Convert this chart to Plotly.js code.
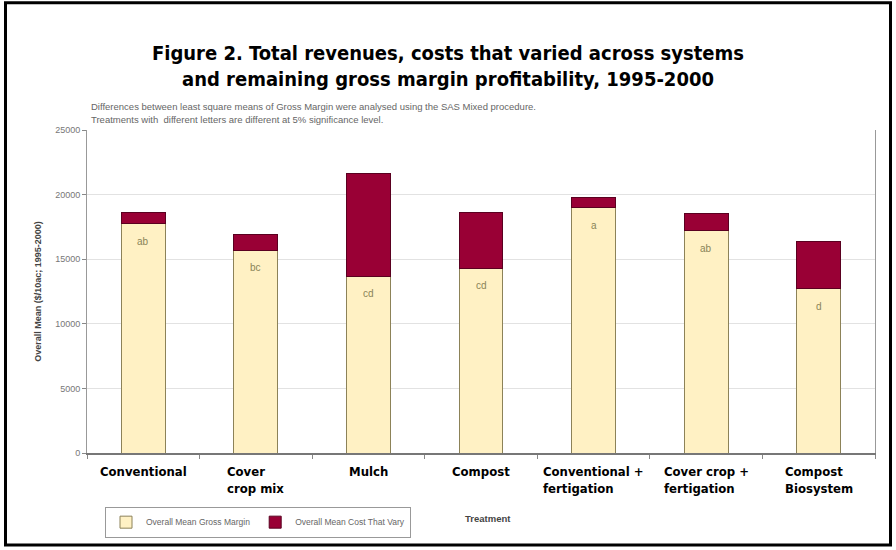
<!DOCTYPE html>
<html>
<head>
<meta charset="utf-8">
<script src="https://cdn.plot.ly/plotly-3.0.1.min.js"></script>
<style>
  html, body { margin: 0; padding: 0; background: #fff; }
  #chart { width: 896px; height: 550px; }
</style>
</head>
<body>
<div id="chart"></div>
<script>
// ---- data ----
const categories = ["Conventional", "Cover crop mix", "Mulch", "Compost",
  "Conventional + fertigation", "Cover crop + fertigation", "Compost Biosystem"];
const categoryLabels = ["Conventional", "Cover<br>crop mix", "Mulch", "Compost",
  "Conventional +<br>fertigation", "Cover crop +<br>fertigation", "Compost<br>Biosystem"];
const grossMargin = [17750, 15700, 13700, 14300, 19000, 17200, 12700];
const costThatVary = [900, 1200, 7950, 4300, 800, 1300, 3700];
const significanceLetters = ["ab", "bc", "cd", "cd", "a", "ab", "d"];
const yTicks = [0, 5000, 10000, 15000, 20000, 25000];

// ---- layout helpers ----
const narrow = '"DejaVu Sans Condensed", "Liberation Sans Narrow", "Arial Narrow", sans-serif';
const sans = '"Liberation Sans", Arial, sans-serif';
const M = {l: 87, r: 21, t: 130, b: 95};
const W = 896, H = 550;
const pw = W - M.l - M.r, ph = H - M.t - M.b;
const px2x = p => (p - M.l) / pw;
const py2y = p => (H - M.b - p) / ph;

const traces = [
  {
    type: 'bar', name: 'Overall Mean Gross Margin',
    x: categories, y: grossMargin,
    marker: {color: '#FFF1C4', line: {color: '#8C8258', width: 1}},
    hoverinfo: 'y'
  },
  {
    type: 'bar', name: 'Overall Mean Cost That Vary',
    x: categories, y: costThatVary,
    marker: {color: '#990035', line: {color: '#5A0020', width: 1}},
    hoverinfo: 'y'
  }
];

const annotations = [];
categories.forEach((c, i) => {
  annotations.push({
    x: c, xref: 'x', y: py2y(464), yref: 'paper', yanchor: 'top',
    xanchor: 'center', align: 'left', showarrow: false,
    text: categoryLabels[i],
    font: {family: narrow, size: 13, color: '#000', weight: 'bold'}
  });
  annotations.push({
    x: c, xref: 'x', y: grossMargin[i], yref: 'y', yanchor: 'top',
    xanchor: 'center', showarrow: false, yshift: -10,
    text: significanceLetters[i],
    font: {family: sans, size: 10, color: '#8A8458'}
  });
});

annotations.push(
  {xref: 'paper', yref: 'paper', x: px2x(89), y: py2y(106), xanchor: 'left', yanchor: 'middle',
   showarrow: false, text: 'Differences between least square means of Gross Margin were analysed using the SAS Mixed procedure.',
   font: {family: sans, size: 9.5, color: '#666'}},
  {xref: 'paper', yref: 'paper', x: px2x(89), y: py2y(119), xanchor: 'left', yanchor: 'middle',
   showarrow: false, text: 'Treatments with  different letters are different at 5% significance level.',
   font: {family: sans, size: 9.5, color: '#666'}},
  {xref: 'paper', yref: 'paper', x: px2x(463), y: py2y(521), xanchor: 'left', yanchor: 'middle',
   showarrow: false, text: '<b>Treatment</b>',
   font: {family: sans, size: 9.5, color: '#444'}}
);

const layout = {
  width: W, height: H,
  margin: M,
  paper_bgcolor: '#fff', plot_bgcolor: '#fff',
  barmode: 'stack', bargap: 0.61,
  showlegend: true,
  title: {
    text: 'Figure 2. Total revenues, costs that varied across systems<br>and remaining gross margin profitability, 1995-2000',
    font: {family: narrow, size: 20, color: '#000', weight: 'bold'},
    x: 0.5, xanchor: 'center', xref: 'container',
    y: 1 - 60 / H, yanchor: 'top', yref: 'container'
  },
  xaxis: {
    type: 'category',
    showticklabels: false,
    ticks: 'outside', tickson: 'boundaries', ticklen: 4, tickcolor: '#888',
    showline: true, linecolor: '#777', linewidth: 1.5,
    showgrid: false, zeroline: false,
    fixedrange: true
  },
  yaxis: {
    range: [0, 25000],
    tickvals: yTicks, tickformat: 'd',
    ticks: 'outside', ticklen: 4, tickcolor: '#888',
    tickfont: {family: sans, size: 9, color: '#777'},
    showline: true, linecolor: '#999', linewidth: 1, mirror: true,
    showgrid: true, gridcolor: '#e2e2e2', gridwidth: 1,
    zeroline: false,
    title: {text: '<b>Overall Mean ($/10ac; 1995-2000)</b>', font: {family: sans, size: 9, color: '#444'}, standoff: 12},
    fixedrange: true
  },
  legend: {
    orientation: 'h',
    x: px2x(105), xanchor: 'left',
    y: py2y(509), yanchor: 'top',
    bordercolor: '#999', borderwidth: 1,
    font: {family: sans, size: 8.5, color: '#666'},
    itemwidth: 30, traceorder: 'normal',
    tracegroupgap: 0
  },
  annotations: annotations,
  shapes: [
    {type: 'rect', xref: 'paper', yref: 'paper',
     x0: px2x(5.5), x1: px2x(890.5), y0: py2y(547.5), y1: py2y(2),
     line: {color: '#000', width: 3}, fillcolor: 'rgba(0,0,0,0)', layer: 'above'}
  ]
};

Plotly.newPlot('chart', traces, layout, {displayModeBar: false, staticPlot: true});
</script>
</body>
</html>
